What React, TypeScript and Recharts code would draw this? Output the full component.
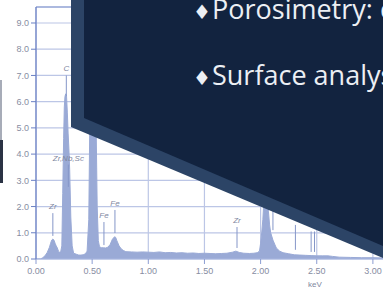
import React from "react";
import {
  AreaChart,
  Area,
  XAxis,
  YAxis,
  CartesianGrid,
  ReferenceLine,
  ReferenceDot,
} from "recharts";

// EDS spectrum (keV vs counts, arbitrary units)
const KEV = [
  0.0, 0.04, 0.06, 0.08, 0.1, 0.12, 0.13, 0.14, 0.15, 0.16, 0.17, 0.18, 0.19,
  0.2, 0.21, 0.22, 0.23, 0.238, 0.246, 0.252, 0.258, 0.265, 0.272, 0.279,
  0.286, 0.293, 0.3, 0.31, 0.322, 0.335, 0.36, 0.38, 0.4, 0.42, 0.44, 0.455,
  0.47, 0.478, 0.49, 0.505, 0.52, 0.535, 0.545, 0.555, 0.565, 0.58, 0.6, 0.62,
  0.64, 0.66, 0.68, 0.7, 0.71, 0.72, 0.74, 0.76, 0.78, 0.8, 0.85, 0.9, 0.95,
  1.0, 1.05, 1.1, 1.15, 1.2, 1.25, 1.3, 1.35, 1.4, 1.45, 1.5, 1.55, 1.6, 1.65,
  1.7, 1.75, 1.78, 1.81, 1.85, 1.9, 1.94, 1.97, 1.99, 2.0, 2.01, 2.02, 2.03,
  2.04, 2.05, 2.06, 2.07, 2.08, 2.09, 2.11, 2.14, 2.17, 2.2, 2.25, 2.3, 2.35,
  2.4, 2.45, 2.5, 2.55, 2.6, 2.64, 2.7, 2.8, 2.9, 3.0, 3.09,
];
const COUNTS = [
  0.0, 0.0, 0.05, 0.12, 0.25, 0.45, 0.6, 0.72, 0.76, 0.72, 0.6, 0.5, 0.42,
  0.3, 0.26, 0.28, 0.5, 2.5, 4.6, 5.8, 6.2, 6.3, 6.2, 5.6, 4.8, 4.2, 3.4, 1.6,
  0.5, 0.22, 0.18, 0.15, 0.15, 0.16, 0.2, 0.3, 1.5, 4.8, 7.5, 8.6, 7.8, 5.2,
  2.0, 0.7, 0.48, 0.43, 0.43, 0.42, 0.45, 0.55, 0.75, 0.85, 0.82, 0.7, 0.5,
  0.38, 0.32, 0.28, 0.27, 0.26, 0.27, 0.26, 0.25, 0.27, 0.24, 0.25, 0.23,
  0.24, 0.22, 0.23, 0.21, 0.22, 0.21, 0.2, 0.21, 0.22, 0.26, 0.3, 0.25, 0.22,
  0.21, 0.22, 0.24, 0.3, 0.6, 1.0, 1.5, 2.3, 3.0, 3.2, 2.6, 1.8, 1.3, 1.0,
  0.72, 0.42, 0.3, 0.24, 0.2, 0.16, 0.15, 0.14, 0.13, 0.12, 0.12, 0.12, 0.1,
  0.07, 0.06, 0.05, 0.05, 0.04,
];

// element marker lines
const MARKER_KEV = [0.15, 0.27, 0.288, 0.605, 0.703, 1.79, 2.11, 2.31, 2.45, 2.48];
const MARKER_LOW = [0.88, 6.2, 2.75, 0.53, 0.99, 0.42, 1.1, 0.35, 0.27, 0.27];
const MARKER_HIGH = [1.75, 7.0, 3.6, 1.41, 1.87, 1.22, 2.2, 1.3, 1.05, 1.05];
const MARKER_LABEL = ["Zr", "C", "Zr,Nb,Sc", "Fe", "Fe", "Zr", "", "", "", ""];

const X_TICKS = [0, 0.5, 1, 1.5, 2, 2.5, 3];
const Y_TICKS = [0, 1, 2, 3, 4, 5, 6, 7, 8, 9];
const Y_TOP = 9.61;

const data = KEV.map((kev, i) => ({ kev, counts: COUNTS[i] }));

const tickStyle = {
  fontSize: 9,
  fill: "#878da2",
  fontFamily: "Liberation Sans, Arial, sans-serif",
};

const labelStyle = {
  fontSize: 8,
  fill: "#7f879f",
  fontStyle: "italic",
  fontFamily: "Liberation Sans, Arial, sans-serif",
};

export default function App() {
  return (
    <div
      style={{
        position: "absolute",
        left: 0,
        top: 0,
        width: 383,
        height: 290,
        overflow: "hidden",
        background: "#ffffff",
      }}
    >
      <AreaChart
        width={383}
        height={290}
        data={data}
        margin={{ top: 7, right: 0, bottom: 0, left: 0 }}
      >
        <CartesianGrid stroke="#bcc6e6" strokeWidth={1.2} />
        <XAxis
          dataKey="kev"
          type="number"
          domain={[0, 3.09]}
          ticks={X_TICKS}
          tickFormatter={(v) => v.toFixed(2)}
          height={31}
          tick={tickStyle}
          tickSize={5}
          tickMargin={4}
          axisLine={{ stroke: "#a9b7e0" }}
          tickLine={{ stroke: "#8c9dd2" }}
          label={({ viewBox }: any) => (
            <text
              x={viewBox.x + 279}
              y={viewBox.y + 28}
              textAnchor="middle"
              fontSize={8}
              fill="#7f87a0"
              fontFamily="Liberation Sans, Arial, sans-serif"
            >
              keV
            </text>
          )}
        />
        <YAxis
          type="number"
          domain={[0, Y_TOP]}
          ticks={Y_TICKS}
          tickFormatter={(v) => v.toFixed(1)}
          width={36}
          tick={tickStyle}
          tickSize={5}
          tickMargin={2}
          axisLine={{ stroke: "#6a80c4", strokeWidth: 1.2 }}
          tickLine={{ stroke: "#6a80c4" }}
          allowDataOverflow
        />
        <ReferenceLine y={Y_TOP} stroke="#7d90cc" strokeWidth={1.2} />
        <Area
          type="linear"
          dataKey="counts"
          stroke="#9aaad6"
          strokeWidth={1}
          fill="#9aaad6"
          fillOpacity={1}
          isAnimationActive={false}
        />
        {MARKER_KEV.map((k, i) => (
          <ReferenceLine
            key={`m-${i}`}
            segment={[
              { x: k, y: MARKER_LOW[i] },
              { x: k, y: MARKER_HIGH[i] },
            ]}
            stroke="#8596c8"
            strokeWidth={1}
          />
        ))}
        {MARKER_KEV.map((k, i) =>
          MARKER_LABEL[i] ? (
            <ReferenceDot
              key={`l-${i}`}
              x={k}
              y={MARKER_HIGH[i]}
              r={0}
              stroke="none"
              fill="none"
              label={{
                value: MARKER_LABEL[i],
                position: "top",
                offset: 4,
                ...labelStyle,
              }}
            />
          ) : null
        )}
      </AreaChart>

      {/* slide panel covering the chart */}
      <svg
        width={383}
        height={290}
        style={{ position: "absolute", left: 0, top: 0, pointerEvents: "none" }}
      >
        <rect x={0} y={80} width={2} height={60} fill="#a7acb8" />
        <rect x={0} y={140} width={3} height={43} fill="#2a3244" />
        <polygon points="71,0 383,0 383,258 71,127" fill="#2c4466" />
        <polygon points="84,0 383,0 383,246 84,118" fill="#12233f" />
        <g fill="#eceff4" fontFamily="Open Sans, sans-serif" fontSize={27}>
          <text x={193} y={19} fontSize={20} fontFamily="DejaVu Sans">
            ♦
          </text>
          <text x={212} y={19}>
            Porosimetry: c
          </text>
          <text x={193} y={85} fontSize={20} fontFamily="DejaVu Sans">
            ♦
          </text>
          <text x={212} y={85}>
            Surface analysis
          </text>
        </g>
      </svg>
    </div>
  );
}
